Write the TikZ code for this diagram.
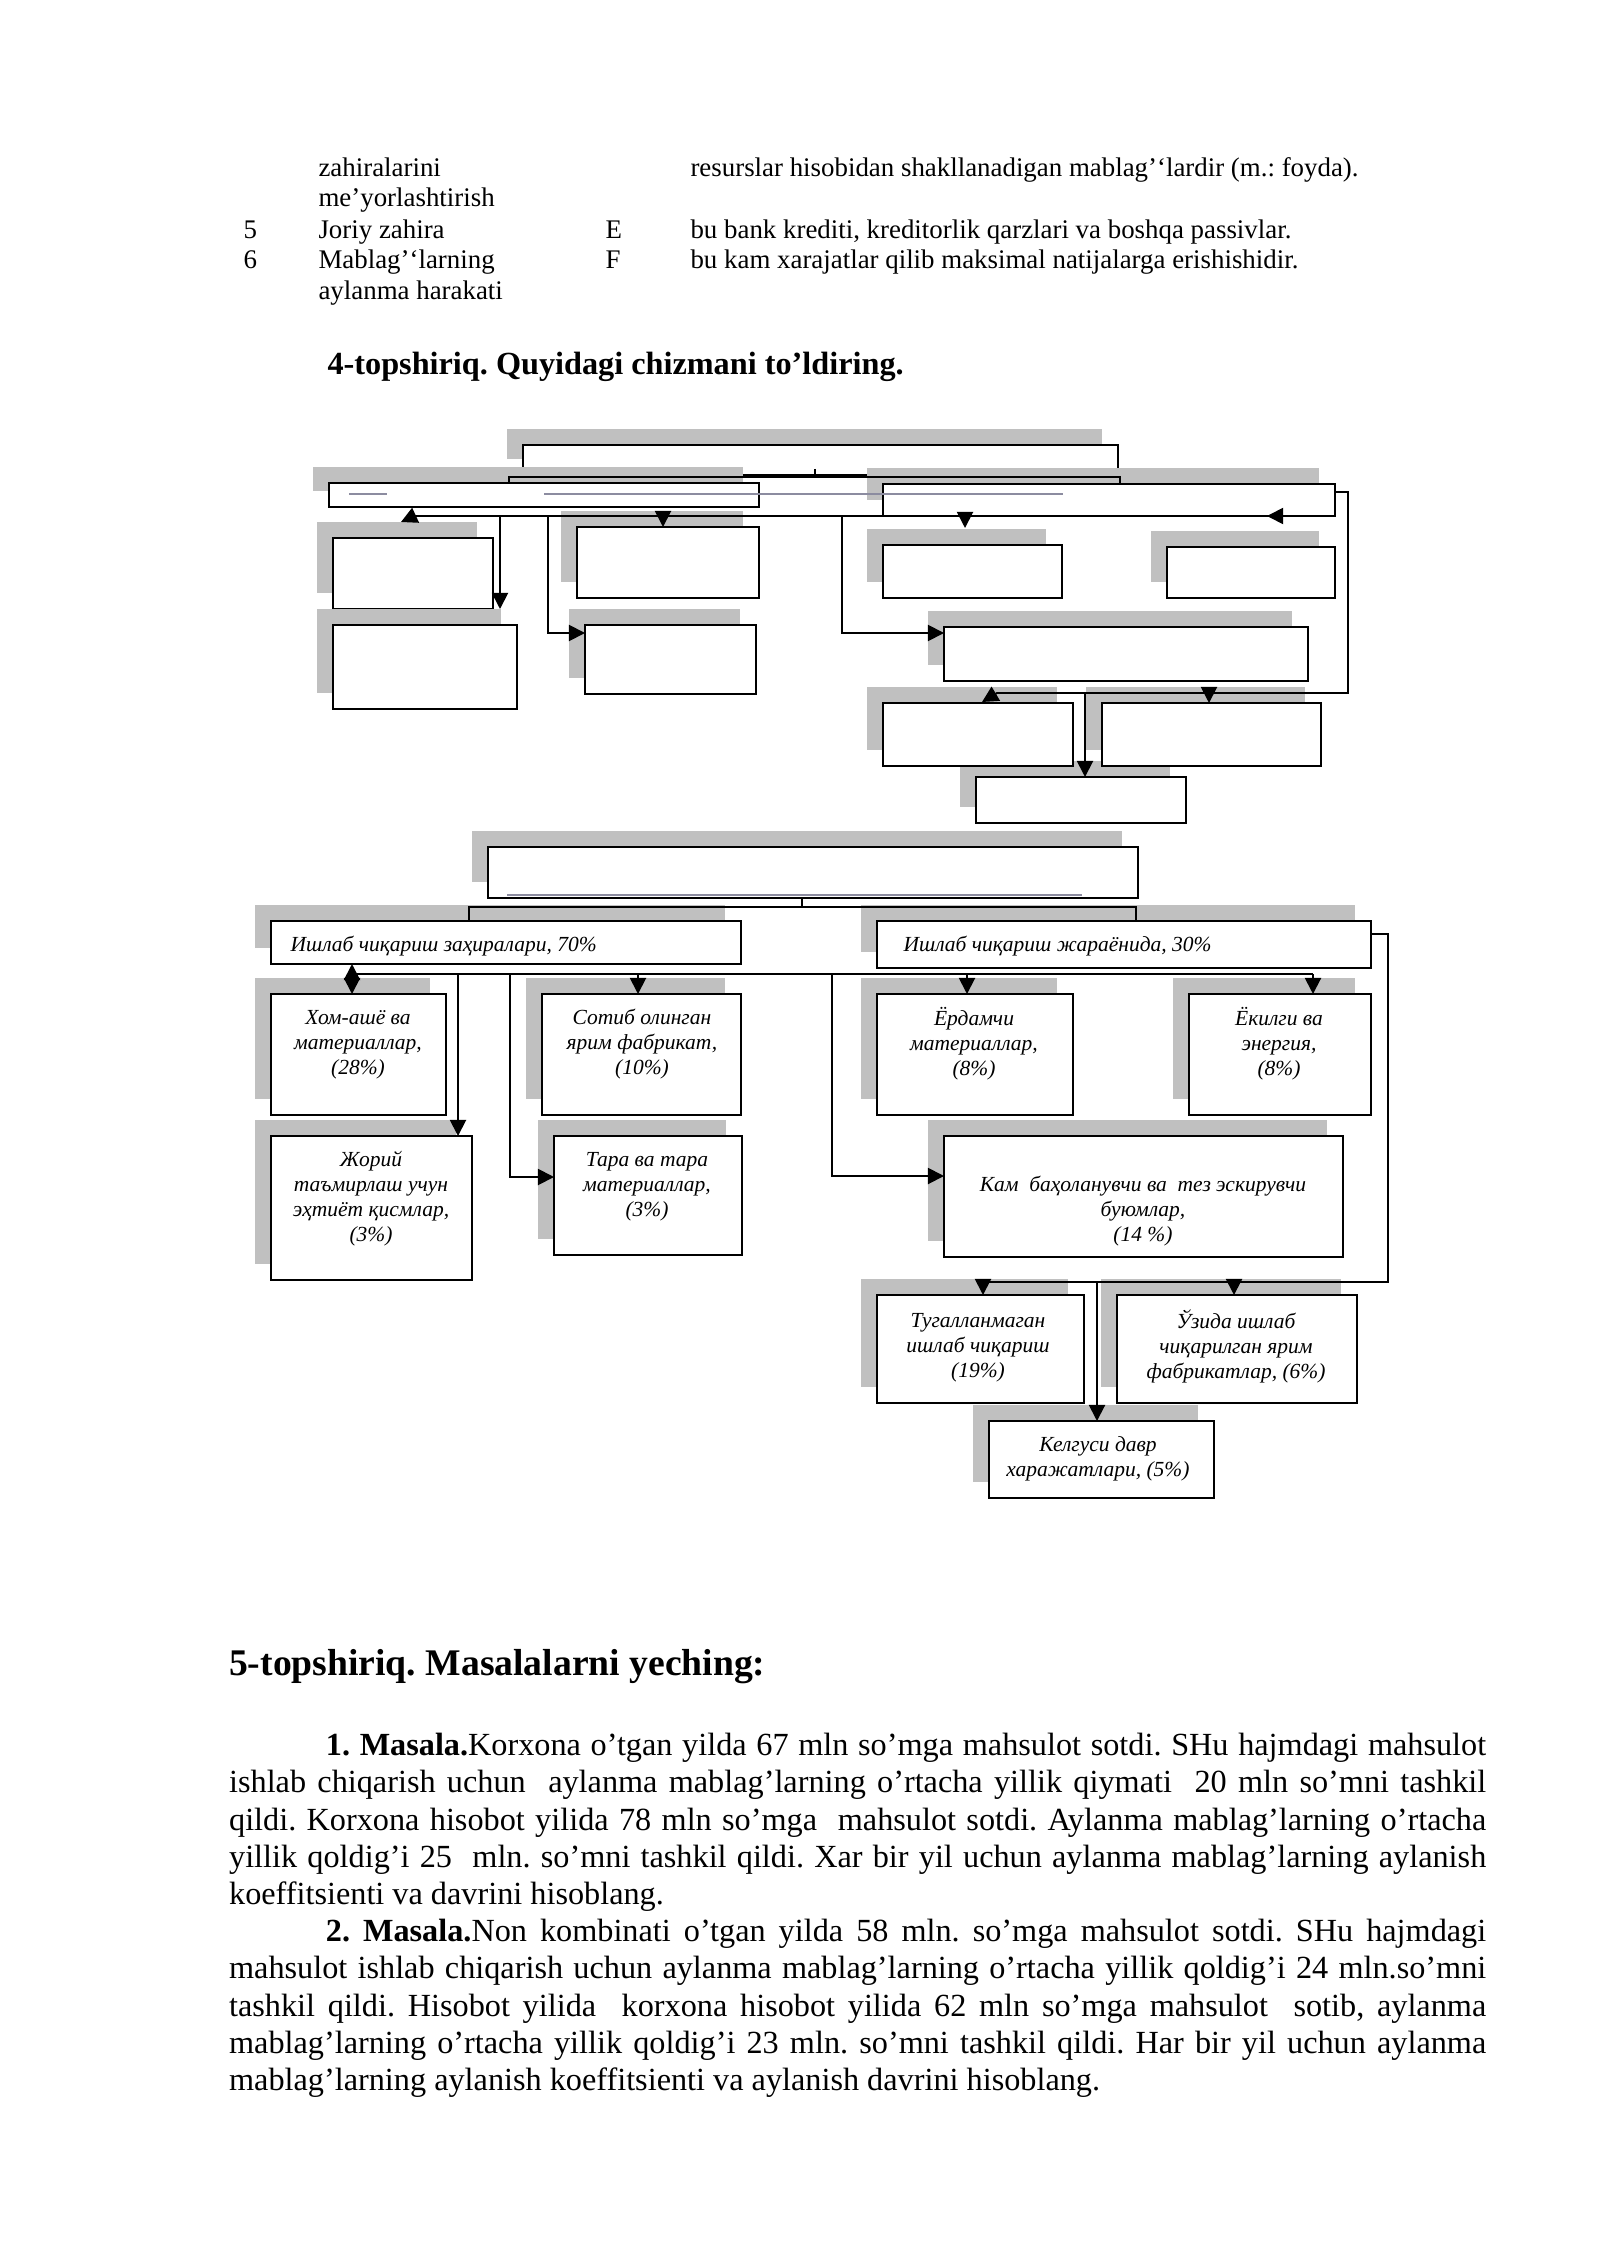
\documentclass[tikz,border=0pt]{standalone}
\usepackage{fontspec}
\setmainfont{Liberation Serif}
\usetikzlibrary{arrows.meta,fit,shadows}
\definecolor{shadowgray}{RGB}{192,192,192}
\definecolor{straygray}{RGB}{140,140,160}
\frenchspacing
\begin{document}
\begin{tikzpicture}[x=0.37205pt,y=-0.37205pt,
  box/.style={draw=black,line width=0.85pt,fill=white,inner sep=0pt,outer sep=0pt,
    general shadow={fill=shadowgray,shadow xshift=-6pt,shadow yshift=6pt}},
  ln/.style={draw=black,line width=0.7pt},
  arr/.style={ln,-{Triangle[length=6pt,width=6pt]}},
  darr/.style={ln,{Triangle[length=6pt,width=6pt]}-{Triangle[length=6pt,width=6pt]}},
  tbl/.style={font=\fontsize{10}{11.3}\selectfont,inner sep=0pt,anchor=base west},
  lbl/.style={font=\fontsize{8}{9.3}\selectfont\itshape,inner sep=0pt,align=center,anchor=north},
  lvl/.style={font=\fontsize{8}{9.3}\selectfont\itshape,inner sep=0pt,anchor=base west},
  stray/.style={draw=straygray,line width=0.4pt}
]
\fill[white] (0,0) rectangle (1600,2262);
\useasboundingbox (0,0) rectangle (1600,2262);

% ---------- table text ----------
\node[tbl] (t1b) at (318,177) {zahiralarini};
\node[tbl] (t1d) at (690,177) {resurslar hisobidan shakllanadigan mablag’‘lardir (m.: foyda).};
\node[tbl] (t2b) at (318,207) {me’yorlashtirish};
\node[tbl] (t3a) at (243,239) {5};
\node[tbl] (t3b) at (318,239) {Joriy zahira};
\node[tbl] (t3c) at (605,239) {E};
\node[tbl] (t3d) at (690,239) {bu bank krediti, kreditorlik qarzlari va boshqa passivlar.};
\node[tbl] (t4a) at (243,269) {6};
\node[tbl] (t4b) at (318,269) {Mablag’‘larning};
\node[tbl] (t4c) at (605,269) {F};
\node[tbl] (t4d) at (690,269) {bu kam xarajatlar qilib maksimal natijalarga erishishidir.};
\node[tbl] (t5b) at (318,300) {aylanma harakati};

\node[anchor=base west,inner sep=0pt,font=\fontsize{12}{13.8}\selectfont\bfseries] (h4) at (327,375) {4-topshiriq. Quyidagi chizmani to’ldiring.};

% ---------- upper diagram boxes ----------
\node[box,fit={(523,445)(1118,475)}] (T0) {};
\node[box,fit={(329,483)(759,507)}] (L1) {};
\node[box,fit={(883,484)(1335,516)}] (R1) {};
\node[box,fit={(333,538)(493,609)}] (A1) {};
\node[box,fit={(333,625)(517,709)}] (A2) {};
\node[box,fit={(577,527)(759,598)}] (B1) {};
\node[box,fit={(585,625)(756,694)}] (B2) {};
\node[box,fit={(883,545)(1062,598)}] (B3) {};
\node[box,fit={(1167,547)(1335,598)}] (B4) {};
\node[box,fit={(944,627)(1308,681)}] (C1) {};
\node[box,fit={(976,777)(1186,823)}] (E1) {};
\node[box,fit={(883,703)(1073,766)}] (D1) {};
\node[box,fit={(1102,703)(1321,766)}] (D2) {};

\draw[stray] (349,494) -- (387,494);
\draw[stray] (544,494) -- (1063,494);

% ---------- upper diagram connectors ----------
\coordinate (tick1) at (815,469);
\coordinate (brL1) at (509,477);
\coordinate (brR1) at (1120,477);
\draw[ln] (tick1) -- (tick1 |- brL1);
\draw[ln] (L1.north -| brL1) -- (brL1) -- (brR1) -- (R1.north -| brR1);
\coordinate (bus1) at (414,516);
\draw[arr] (R1.south west) -- (bus1) -- ++(-13,6);
\coordinate (c1) at (500,516);
\draw[arr] (c1) -- (c1 |- A1.south);
\coordinate (c2) at (548,633);
\draw[arr] (c2 |- bus1) -- (c2) -- (c2 -| B2.west);
\coordinate (c3) at (663,516);
\draw[arr] (c3) -- (c3 |- B1.north);
\coordinate (c4) at (842,633);
\draw[arr] (c4 |- bus1) -- (c4) -- (c4 -| C1.west);
\coordinate (c5) at (965,516);
\draw[arr] (c5) -- ++(0,12);
\coordinate (c6) at (1292,516);
\draw[arr] (c6) -- ++(-25,0);
\coordinate (c7) at (1348,492);
\coordinate (c8) at (1348,693);
\coordinate (c9) at (997,693);
\draw[arr] (R1.east |- c7) -- (c7) -- (c8) -- (c9) -- ++(-15,9);
\coordinate (c10) at (1209,693);
\draw[arr] (c10) -- (c10 |- D2.north);
\coordinate (c11) at (1085,693);
\draw[arr] (c11) -- (c11 |- E1.north);

% ---------- lower diagram boxes ----------
\node[box,fit={(488,847)(1138,898)}] (T2) {};
\node[box,fit={(271,921)(741,964)}] (L2) {};
\node[box,fit={(877,921)(1371,968)}] (R2) {};
\node[box,fit={(271,994)(446,1115)}] (H1) {};
\node[box,fit={(542,994)(741,1115)}] (H2) {};
\node[box,fit={(877,994)(1073,1115)}] (H5) {};
\node[box,fit={(1189,994)(1371,1115)}] (H6) {};
\node[box,fit={(271,1136)(472,1280)}] (H3) {};
\node[box,fit={(554,1136)(742,1255)}] (H4) {};
\node[box,fit={(944,1136)(1343,1257)}] (H7) {};
\node[box,fit={(989,1421)(1214,1498)}] (H10) {};
\node[box,fit={(877,1295)(1084,1403)}] (H8) {};
\node[box,fit={(1117,1295)(1357,1403)}] (H9) {};

\draw[stray] (507,895) -- (1082,895);

\node[lvl] (tL2) at (290,951) {Ишлаб чиқариш заҳиралари, 70\%};
\node[lvl] (tR2) at (903,951) {Ишлаб чиқариш жараёнида, 30\%};
\node[lbl] (tH1) at (358,1006.5) {\strut Хом-ашё ва\\материаллар,\\(28\%)};
\node[lbl] (tH2) at (642,1006.5) {\strut Сотиб олинган\\ярим фабрикат,\\(10\%)};
\node[lbl] (tH3) at (371,1148.5) {\strut Жорий\\таъмирлаш учун\\эҳтиёт қисмлар,\\(3\%)};
\node[lbl] (tH4) at (647,1148.5) {\strut Тара ва тара\\материаллар,\\(3\%)};
\node[lbl] (tH5) at (974,1006.5) {\strut Ёрдамчи\\материаллар,\\(8\%)};
\node[lbl] (tH6) at (1279,1006.5) {\strut Ёкилги ва\\энергия,\\(8\%)};
\node[lbl] (tH7) at (1143,1173.5) {\strut Кам\ \ баҳоланувчи ва\ \ тез эскирувчи\\буюмлар,\\(14 \%)};
\node[lbl] (tH8) at (978,1309.5) {\strut Тугалланмаган\\ишлаб чиқариш\\(19\%)};
\node[lbl] (tH9) at (1236,1309.5) {\strut Ўзида ишлаб\\чиқарилган ярим\\фабрикатлар, (6\%)};
\node[lbl] (tH10) at (1098,1433.5) {\strut Келгуси давр\\харажатлари, (5\%)};

% ---------- lower diagram connectors ----------
\coordinate (tick2) at (802,898);
\coordinate (brL2) at (469,907);
\coordinate (brR2) at (1136,907);
\draw[ln] (tick2) -- (tick2 |- brL2);
\draw[ln] (L2.north -| brL2) -- (brL2) -- (brR2) -- (R2.north -| brR2);
\coordinate (bus2L) at (352,974);
\coordinate (bus2R) at (1313,974);
\draw[ln] (bus2L) -- (bus2R);
\draw[darr] (bus2L |- L2.south) -- (bus2L |- H1.north);
\coordinate (d1) at (458,974);
\draw[arr] (d1) -- (d1 |- H3.north);
\coordinate (d2) at (510,1177);
\draw[arr] (d2 |- bus2L) -- (d2) -- (d2 -| H4.west);
\coordinate (d3) at (638,974);
\draw[arr] (d3) -- (d3 |- H2.north);
\coordinate (d4) at (832,1176);
\draw[arr] (d4 |- bus2L) -- (d4) -- (d4 -| H7.west);
\coordinate (d5) at (967,974);
\draw[arr] (d5) -- (d5 |- H5.north);
\draw[arr] (bus2R) -- (bus2R |- H6.north);
\coordinate (d6) at (1388,934);
\coordinate (d7) at (1388,1282);
\coordinate (d8) at (983,1282);
\draw[arr] (R2.east |- d6) -- (d6) -- (d7) -- (d8) -- (d8 |- H8.north);
\coordinate (d9) at (1234,1282);
\draw[arr] (d9) -- (d9 |- H9.north);
\coordinate (d10) at (1097,1282);
\draw[arr] (d10) -- (d10 |- H10.north);

% ---------- task 5 ----------
\node[anchor=base west,inner sep=0pt,font=\fontsize{14}{16}\selectfont\bfseries] (h5) at (228.6,1675) {5-topshiriq. Masalalarni yeching:};

\node[anchor=north west,inner sep=0pt,text width=467.7pt,align=justify,font=\fontsize{12}{13.85}\selectfont] (body) at (228.6,1729) {\parindent=0pt\tolerance=10000\hyphenpenalty=10000\emergencystretch=0pt
\strut\hspace*{36pt}\textbf{1. Masala.}Korxona o’tgan yilda 67 mln so’mga mahsulot sotdi. SHu hajmdagi mahsulot\linebreak
ishlab chiqarish uchun\ \ aylanma mablag’larning o’rtacha yillik qiymati\ \ 20 mln so’mni tashkil\linebreak
qildi. Korxona hisobot yilida 78 mln so’mga\ \ mahsulot sotdi. Aylanma mablag’larning o’rtacha\linebreak
yillik qoldig’i 25\ \ mln. so’mni tashkil qildi. Xar bir yil uchun aylanma mablag’larning aylanish\linebreak
koeffitsienti va davrini hisoblang.\par
\hspace*{36pt}\textbf{2. Masala.}Non kombinati o’tgan yilda 58 mln. so’mga mahsulot sotdi. SHu hajmdagi\linebreak
mahsulot ishlab chiqarish uchun aylanma mablag’larning o’rtacha yillik qoldig’i 24 mln.so’mni\linebreak
tashkil qildi. Hisobot yilida\ \ korxona hisobot yilida 62 mln so’mga mahsulot\ \ sotib, aylanma\linebreak
mablag’larning o’rtacha yillik qoldig’i 23 mln. so’mni tashkil qildi. Har bir yil uchun aylanma\linebreak
mablag’larning aylanish koeffitsienti va aylanish davrini hisoblang.};
\end{tikzpicture}
\end{document}
